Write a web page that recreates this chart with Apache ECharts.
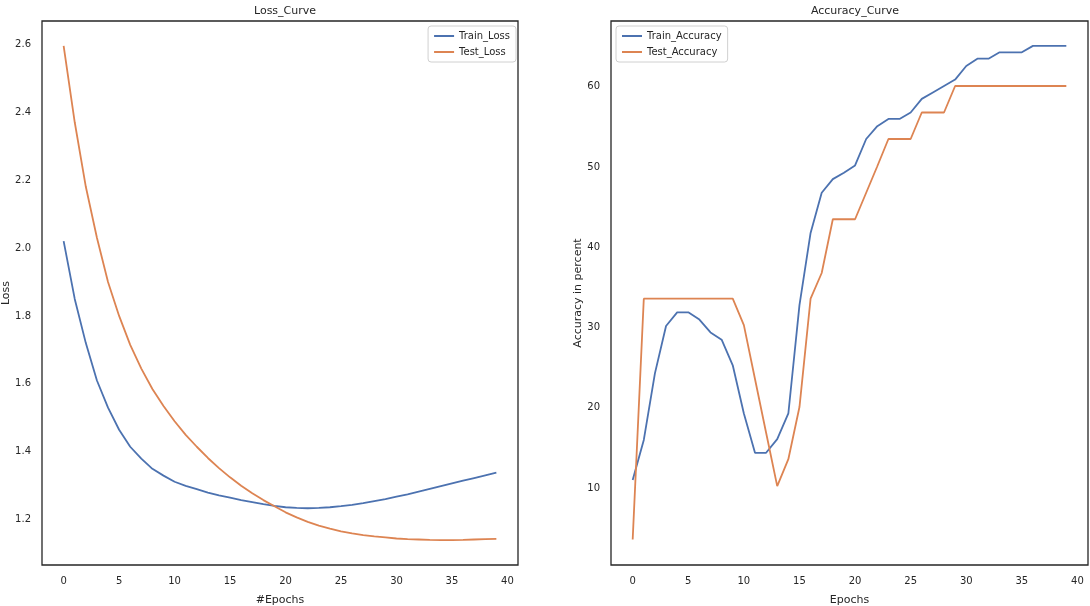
<!DOCTYPE html>
<html>
<head>
<meta charset="utf-8">
<script src="https://cdn.jsdelivr.net/npm/echarts@6/dist/echarts.min.js"></script>
<style>
html,body{margin:0;padding:0;background:#fff;}
#chart{width:1090px;height:606px;}
</style>
</head>
<body>
<div id="chart"></div>
<script>
const epochs = Array.from({length: 40}, (_, i) => i);
const trainLoss = [2.02,1.85,1.72,1.61,1.53,1.465,1.415,1.38,1.35,1.33,1.312,1.30,1.29,1.28,1.272,1.265,1.258,1.252,1.246,1.241,1.237,1.235,1.234,1.235,1.237,1.240,1.244,1.249,1.255,1.261,1.268,1.275,1.283,1.291,1.299,1.307,1.315,1.323,1.331,1.339];
const testLoss = [2.595,2.37,2.18,2.03,1.90,1.80,1.715,1.645,1.585,1.535,1.49,1.45,1.415,1.382,1.352,1.325,1.30,1.278,1.258,1.24,1.222,1.207,1.194,1.183,1.174,1.166,1.16,1.155,1.151,1.148,1.145,1.143,1.142,1.141,1.1405,1.1405,1.141,1.142,1.143,1.144];
const trainAcc = [11.0,16.0,24.3,30.2,31.9,31.9,31.0,29.4,28.5,25.3,19.3,14.4,14.4,16.1,19.3,32.8,41.8,46.8,48.5,49.3,50.2,53.5,55.1,56.0,56.0,56.8,58.5,59.3,60.1,60.9,62.6,63.5,63.5,64.3,64.3,64.3,65.1,65.1,65.1,65.1];
const testAcc = [3.6,33.6,33.6,33.6,33.6,33.6,33.6,33.6,33.6,33.6,30.3,23.6,16.9,10.25,13.6,20.1,33.6,36.8,43.5,43.5,43.5,46.8,50.1,53.5,53.5,53.5,56.8,56.8,56.8,60.1,60.1,60.1,60.1,60.1,60.1,60.1,60.1,60.1,60.1,60.1];
const xTicks = [0,5,10,15,20,25,30,35,40];
const lossTicks = [1.2,1.4,1.6,1.8,2.0,2.2,2.4,2.6];
const accTicks = [10,20,30,40,50,60];

const BLUE = '#4c72b0', ORANGE = '#dd8452';
const FONT = 'DejaVu Sans';
const txt = {color:'#262626', fontFamily: FONT, fontSize: 10};

function pairs(ys){ return epochs.map((x,i)=>[x, ys[i]]); }

function xAxis(idx, name){
  return {
    type:'value', gridIndex: idx, min:-1.95, max:40.95,
    name: name, nameLocation:'middle', nameGap: 30,
    nameTextStyle: {color:'#262626', fontFamily: FONT, fontSize: 11},
    axisLine:{show:false}, axisTick:{show:false}, splitLine:{show:false},
    axisLabel: Object.assign({customValues: xTicks, margin: 11, formatter: v => String(v)}, txt)
  };
}
function yAxis(idx, name, min, max, ticks, fmt){
  return {
    type:'value', gridIndex: idx, min:min, max:max,
    name: name, nameLocation:'middle', nameGap: idx===0 ? 30 : 27,
    nameTextStyle: {color:'#262626', fontFamily: FONT, fontSize: 11},
    axisLine:{show:false}, axisTick:{show:false}, splitLine:{show:false},
    axisLabel: Object.assign({customValues: ticks, margin: 11, formatter: fmt}, txt)
  };
}
function line(name, xi, yi, data, color){
  return {
    name: name, type:'line', xAxisIndex: xi, yAxisIndex: yi, data: pairs(data),
    showSymbol:false, symbol:'none', smooth:false,
    lineStyle:{color: color, width: 1.8}, itemStyle:{color: color},
    emphasis:{disabled:true}, animation:false
  };
}
const legendBase = {
  orient:'vertical', top: 26, itemWidth: 20, itemHeight: 2, itemGap: 6,
  icon: 'rect', padding: [5, 6, 5, 6],
  borderColor:'#d0d0d0', borderWidth: 1, borderRadius: 3, backgroundColor:'#fff',
  textStyle: {color:'#262626', fontFamily: FONT, fontSize: 10}
};

const chart = echarts.init(document.getElementById('chart'), null, {renderer:'canvas'});
chart.setOption({
  animation:false,
  backgroundColor:'#fff',
  title:[
    {text:'Loss_Curve', left: 280, top: 1, textAlign:'center', textStyle:{color:'#262626', fontFamily: FONT, fontSize: 11, fontWeight:'normal'}},
    {text:'Accuracy_Curve', left: 850, top: 1, textAlign:'center', textStyle:{color:'#262626', fontFamily: FONT, fontSize: 11, fontWeight:'normal'}}
  ],
  grid:[
    {left: 42, top: 21, width: 476, height: 544, show:true, borderColor:'#262626', borderWidth:1.3, backgroundColor:'#fff', containLabel:false, outerBoundsMode:'none'},
    {left: 611, top: 21, width: 477, height: 544, show:true, borderColor:'#262626', borderWidth:1.3, backgroundColor:'#fff', containLabel:false, outerBoundsMode:'none'}
  ],
  xAxis:[ xAxis(0,'#Epochs'), xAxis(1,'Epochs') ],
  yAxis:[
    yAxis(0,'Loss',1.067,2.668,lossTicks, v => v.toFixed(1)),
    yAxis(1,'Accuracy in percent',0.42,68.2,accTicks, v => String(v))
  ],
  legend:[
    Object.assign({}, legendBase, {right: 1090-516, data:['Train_Loss','Test_Loss']}),
    Object.assign({}, legendBase, {left: 616, data:['Train_Accuracy','Test_Accuracy']})
  ],
  series:[
    line('Train_Loss',0,0,trainLoss,BLUE),
    line('Test_Loss',0,0,testLoss,ORANGE),
    line('Train_Accuracy',1,1,trainAcc,BLUE),
    line('Test_Accuracy',1,1,testAcc,ORANGE)
  ]
});
</script>
</body>
</html>
